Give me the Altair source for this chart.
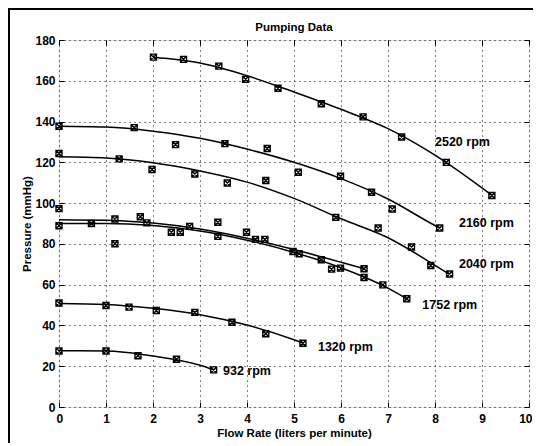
import altair as alt
import pandas as pd

FONT = "Liberation Sans"

# ---- fitted curves ----
c2520_x = [2.0, 3.0, 4.0, 5.0, 6.0, 7.0, 8.0, 9.2]
c2520_y = [171.5, 168.7, 162.5, 154.5, 146.0, 136.5, 123.5, 104.0]

c2160_x = [0, 1, 2, 3, 4, 5, 6, 7, 8, 8.1]
c2160_y = [137.7, 137.3, 135.3, 131.8, 126.5, 120.0, 112.0, 102.0, 89.0, 87.8]

c2040_x = [0, 1, 2, 3, 4, 5, 6, 7, 8, 8.3]
c2040_y = [122.7, 122.1, 119.8, 115.8, 110.3, 102.3, 92.3, 83.0, 69.5, 65.2]

cA_x = [0, 1, 2, 3, 4, 5, 6, 6.5]
cA_y = [91.8, 91.6, 90.2, 87.3, 82.8, 77.2, 71.0, 67.8]

c1752_x = [0, 1, 2, 3, 4, 5, 6, 7, 7.4]
c1752_y = [90.0, 90.0, 89.0, 86.3, 81.8, 75.8, 68.3, 58.3, 53.1]

c1320_x = [0, 1, 2, 3, 4, 5, 5.2]
c1320_y = [50.8, 50.3, 48.4, 45.3, 40.2, 33.0, 31.3]

c932_x = [0, 1, 2, 3, 3.3]
c932_y = [27.6, 27.5, 25.0, 20.5, 18.2]

# ---- measured points ----
p2520_x = [2.01, 2.65, 3.40, 3.97, 4.66, 5.58, 6.47, 7.29, 8.24, 9.21]
p2520_y = [171.6, 170.5, 167.2, 160.7, 156.3, 148.7, 142.3, 132.4, 120.0, 103.7]

p2160_x = [0, 1.6, 2.48, 3.53, 4.43, 5.09, 5.99, 6.65, 7.09, 8.10]
p2160_y = [137.7, 137.0, 128.7, 129.2, 126.8, 115.1, 113.2, 105.3, 97.1, 87.8]

p2040_x = [0, 1.28, 1.98, 2.89, 3.58, 4.40, 5.89, 6.79, 7.50, 7.91, 8.31]
p2040_y = [124.3, 121.7, 116.5, 114.3, 109.9, 111.1, 93.0, 87.8, 78.5, 69.4, 65.2]

pA_x = [0, 1.19, 1.73, 2.78, 3.38, 3.99, 4.38, 4.98, 5.58, 5.99, 6.49]
pA_y = [97.3, 92.2, 93.3, 88.6, 90.6, 85.7, 82.2, 76.3, 72.2, 68.1, 67.8]

p1752_x = [0, 0.69, 1.19, 1.87, 2.39, 2.58, 3.38, 4.18, 5.11, 5.80, 6.49, 6.89, 7.40]
p1752_y = [88.9, 90.0, 80.1, 90.3, 85.7, 85.7, 83.7, 82.2, 75.2, 67.6, 63.5, 59.9, 53.1]

p1320_x = [0, 1.0, 1.49, 2.07, 2.89, 3.68, 4.40, 5.19]
p1320_y = [51.0, 49.8, 49.0, 47.3, 46.4, 41.6, 35.9, 31.3]

p932_x = [0, 1.0, 1.68, 2.5, 3.29]
p932_y = [27.5, 27.5, 25.1, 23.4, 18.2]

# ---- curve labels ----
label_text = ["2520 rpm", "2160 rpm", "2040 rpm", "1752 rpm", "1320 rpm", "932 rpm"]
label_x = [8.0, 8.51, 8.51, 7.73, 5.51, 3.49]
label_y = [130.0, 90.3, 70.0, 50.0, 29.6, 17.8]

title_text = ["Pumping Data"]

x_ticks = list(range(0, 11))
y_ticks = list(range(0, 181, 20))

curves = [("2520", c2520_x, c2520_y), ("2160", c2160_x, c2160_y),
          ("2040", c2040_x, c2040_y), ("A", cA_x, cA_y),
          ("1752", c1752_x, c1752_y), ("1320", c1320_x, c1320_y),
          ("932", c932_x, c932_y)]
points = [("2520", p2520_x, p2520_y), ("2160", p2160_x, p2160_y),
          ("2040", p2040_x, p2040_y), ("A", pA_x, pA_y),
          ("1752", p1752_x, p1752_y), ("1320", p1320_x, p1320_y),
          ("932", p932_x, p932_y)]

lines_df = pd.concat([pd.DataFrame({"series": s, "x": xs_, "y": ys_, "order": range(len(xs_))})
                      for s, xs_, ys_ in curves], ignore_index=True)
pts_df = pd.concat([pd.DataFrame({"series": s, "x": xs_, "y": ys_})
                    for s, xs_, ys_ in points], ignore_index=True)
lab_df = pd.DataFrame({"label": label_text, "x": label_x, "y": label_y})
title_df = pd.DataFrame({"t": title_text})

xs = alt.Scale(domain=[0, 10], nice=False, zero=False)
ys = alt.Scale(domain=[0, 180], nice=False, zero=False)

common = dict(tickColor="black", tickWidth=1, tickSize=5, domain=False,
              labelFont=FONT, labelFontSize=12, labelColor="black",
              labelFontWeight="bold",
              titleFont=FONT, titleFontSize=11.5, titleColor="black",
              titleFontWeight="bold")

x_bottom = alt.Axis(orient="bottom", values=x_ticks, offset=-5, grid=True,
                    gridDash=[1, 4], gridColor="black", gridWidth=1,
                    labelPadding=6, title="Flow Rate (liters per minute)",
                    titlePadding=3, labelFlush=True, labelFlushOffset=3,
                    **common)
y_left = alt.Axis(orient="left", values=y_ticks, offset=-5, grid=True,
                  gridDash=[1, 4], gridColor="black", gridWidth=1,
                  labelPadding=4, title="Pressure (mmHg)", titlePadding=2,
                  labelFlush=False, **common)
x_top = alt.Axis(orient="top", values=x_ticks, offset=-5, grid=False,
                 labels=False, title=None, **common)
y_right = alt.Axis(orient="right", values=y_ticks, offset=-5, grid=False,
                   labels=False, title=None, **common)

lines = alt.Chart(lines_df).mark_line(color="black", strokeWidth=1.5,
                                      interpolate="monotone").encode(
    x=alt.X("x:Q", scale=xs, axis=x_bottom),
    y=alt.Y("y:Q", scale=ys, axis=y_left),
    detail="series:N",
    order="order:Q",
)

marker = "M-1,-1L1,-1L1,1L-1,1Z M-1,-1L1,1 M-1,1L1,-1"
pts = alt.Chart(pts_df).mark_point(shape=marker, size=36, filled=False,
                                   color="black", strokeWidth=1.4, opacity=1).encode(
    x=alt.X("x:Q", scale=xs, axis=x_top),
    y=alt.Y("y:Q", scale=ys, axis=y_right),
)

labels = alt.Chart(lab_df).mark_text(align="left", baseline="middle", font=FONT,
                                     fontSize=12.5, fontWeight="bold",
                                     color="black").encode(
    x=alt.X("x:Q", scale=xs, axis=None),
    y=alt.Y("y:Q", scale=ys, axis=None),
    text="label:N",
)

title = alt.Chart(title_df).mark_text(align="center", baseline="middle", font=FONT,
                                      fontSize=11.5, fontWeight="bold",
                                      color="black").encode(
    x=alt.value(235), y=alt.value(-12.5), text="t:N")

frame_left = alt.Chart(title_df).mark_rule(color="black", strokeWidth=2).encode(
    x=alt.value(-50), y=alt.value(-32), y2=alt.value(403))
frame_top = alt.Chart(title_df).mark_rule(color="black", strokeWidth=2).encode(
    x=alt.value(-50), x2=alt.value(474), y=alt.value(-31))

chart = alt.layer(lines, pts, labels, title, frame_left, frame_top).resolve_axis(
    x="independent", y="independent"
).properties(
    width=470, height=367,
    autosize=alt.AutoSizeParams(type="none"),
    padding={"left": 51, "top": 32, "right": 4, "bottom": 36},
).configure_view(stroke="black", strokeWidth=1.5).configure(background="white")

chart.save("out.html", embed_options={"renderer": "svg", "actions": False})
